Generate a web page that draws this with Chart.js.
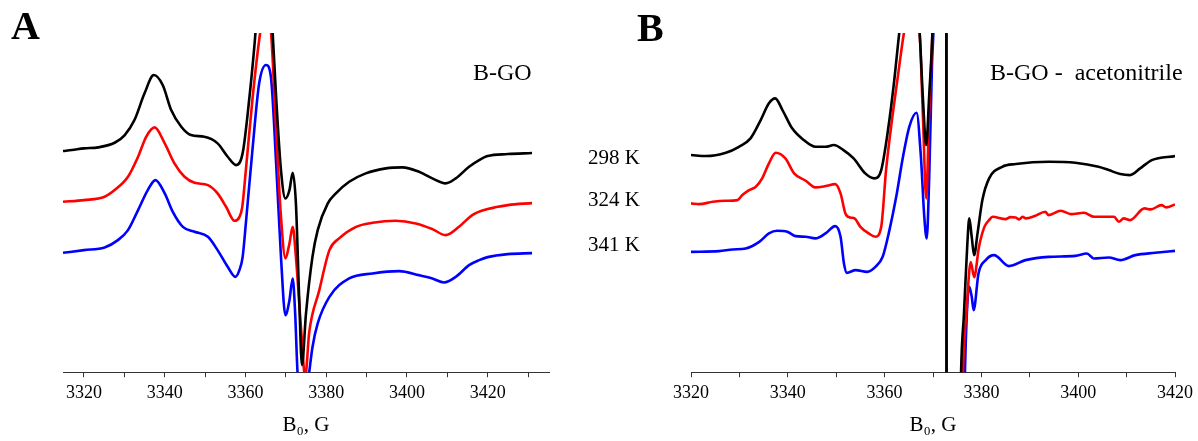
<!DOCTYPE html>
<html><head><meta charset="utf-8">
<script src="https://cdn.jsdelivr.net/npm/chart.js@4.4.0/dist/chart.umd.min.js"></script>
<style>
body{margin:0;background:#fff;width:1198px;height:441px;overflow:hidden;position:relative;font-family:"Liberation Serif","Times New Roman",serif;}
canvas{position:absolute;top:0;}
.lbl{position:absolute;white-space:pre;color:#000;line-height:1;font-family:"Liberation Serif","Times New Roman",serif;}
</style></head><body>
<canvas id="cA" width="600" height="441" style="left:0"></canvas>
<canvas id="cB" width="598" height="441" style="left:600px"></canvas>
<div class="lbl" style="left:11px;top:6px;font-weight:bold;font-size:40px">A</div>
<div class="lbl" style="left:637px;top:8px;font-weight:bold;font-size:40px">B</div>
<div class="lbl" style="left:473px;top:60px;font-size:24px">B-GO</div>
<div class="lbl" style="left:990px;top:60px;font-size:24px">B-GO -  acetonitrile</div>
<div class="lbl" style="left:588px;top:147px;font-size:21px">298 K</div>
<div class="lbl" style="left:588px;top:189px;font-size:21px">324 K</div>
<div class="lbl" style="left:588px;top:234px;font-size:21px">341 K</div>
<script>
// ---- Panel A: B-GO (field in G, signal in arbitrary units) ----
const fieldA298 = [3314.8,3317,3320,3323.5,3327.6,3330.1,3332.5,3335,3337.3,3339.5,3341.6,3344.1,3346.5,3349.8,3353.1,3355.6,3357.7,3359.3,3361,3362.2,3363.5,3364.7,3366,3366.7,3367.6,3368.8,3369.9,3370.9,3371.7,3372.5,3373.3,3374,3375,3376.6,3377.9,3380.4,3382.4,3385.7,3389.8,3394.8,3398.9,3403,3406.3,3409.6,3412.1,3415.4,3417.9,3420,3425,3431];
const signalA298 = [221,222,223.7,224.7,229.3,237,252,278.7,297,287,262,245.3,237,235.3,228.7,215.3,207,218.7,275.3,325.3,390,420,385,342,275,202,173.7,182,199.3,168.7,75.3,7,58.7,115.3,142,168.7,178.7,190.3,198.7,203.7,204.7,200.3,193.7,188.7,193.7,205.3,212,216,218,219];

const fieldA324 = [3314.8,3320,3325.1,3327.6,3330.9,3333.4,3335.4,3337.5,3340,3342.4,3344.9,3347.4,3350.7,3353.1,3355.2,3357.3,3358.5,3359.2,3360.1,3361.8,3363.4,3364.3,3365.3,3366.3,3367.6,3368.8,3369.9,3370.9,3371.7,3372.5,3373.8,3374.8,3375.8,3378.3,3380.8,3383.2,3387.4,3391.5,3397.2,3402.2,3406.3,3409.6,3412.9,3416.2,3420,3425,3431];
const signalA324 = [170.3,172,175.3,182,195.3,215.3,235.3,244.7,228.7,208.7,195.3,189.3,187,178.7,165.3,151.3,155,165,202,275.3,332,355,362,342,242,155.3,113.7,128.7,145.3,115.3,42,-5,40,82,122,133.7,145.3,149.3,151.3,148.7,143,137,145.3,157,163,167,169];

const fieldA341 = [3314.8,3320,3325.1,3328.4,3330.9,3333.4,3335.8,3337.7,3340,3342,3344.5,3347.4,3350.7,3353.1,3355.6,3357.5,3358.5,3359.3,3360.1,3361.8,3363.4,3365.1,3366.3,3367.6,3368.8,3369.9,3370.9,3371.7,3372.3,3372.9,3374.3,3375.8,3376.6,3377.9,3380.8,3385.7,3391.5,3398.1,3403,3406.3,3409.2,3412.1,3415.4,3417.9,3420,3425,3431];
const signalA341 = [119.3,122,124.7,132,142,162,182,192,178.7,160.3,145.3,140.3,135.3,122,105.3,95.3,102,115,148.7,225.3,288.7,307,295.3,208.7,115.3,57,72,93.7,60,0,-50,0,25,48.7,75.3,93.7,98.7,101,97,93.7,89.7,95.3,107,112,115,118,119];

// ---- Panel B: B-GO - acetonitrile ----
const fieldB298 = [3320,3323.1,3327.2,3329.9,3332.3,3334.4,3336.1,3337.4,3338.9,3340.9,3343.3,3345.7,3347.8,3349.5,3351.5,3353.6,3356,3357.9,3359.3,3360.7,3362,3363.1,3364.5,3365.8,3367.2,3367.9,3368.6,3369.2,3369.9,3370.8,3372.7,3372.9,3374.5,3375.8,3376.4,3377.1,3377.5,3378,3378.5,3379.2,3380.2,3381.6,3384.3,3387.1,3393.9,3399.4,3404.2,3406.3,3408.7,3410.7,3412.8,3415.2,3420];
const signalB298 = [217,216,219.3,225.3,233.7,252,268.7,273.7,262,243.7,232,225.3,225.3,227,222,213.7,198.7,193.7,202,242,292,342,390,390,342,275.3,227,275.3,342,500,600,-600,-400,0,58.7,128.7,153.7,135.3,117,138.7,172,193.7,205.3,208,210.3,209.3,205.3,202,198,197,203.7,212,216];

const fieldB324 = [3320,3321.7,3324.5,3327.2,3329.6,3330.6,3332,3333.4,3334.7,3336.1,3337.5,3339.5,3341.3,3343.7,3345.7,3347.8,3349.8,3350.9,3351.9,3352.9,3353.8,3355,3356.7,3358.1,3359.3,3360.3,3361.7,3363.1,3364.1,3365.6,3367.2,3367.9,3368.6,3369.2,3369.9,3370.8,3372.7,3372.9,3374.8,3376.2,3376.9,3377.8,3378.5,3379.5,3380.6,3381.6,3382.3,3385,3386,3387.1,3387.8,3388.5,3389.2,3391,3393.2,3393.9,3396.4,3398.5,3401.2,3403.3,3407.4,3408.4,3409.4,3410.7,3413.7,3415,3417.2,3418.2,3420];
const signalB324 = [168.7,168,170.3,171.3,172,177,182,185.3,193.7,208.7,219.3,213.7,198.7,191.3,184.7,186,188,178.7,158.7,154.7,153.7,145.3,138.7,135.3,145.3,202,258.7,308.7,342,370,342,258.7,173.7,258.7,342,500,600,-600,-400,0,58.7,110,95,125.3,145,152,155.3,153,155,154.7,152.7,155.3,153.7,156,160.3,157,161.3,158,159.3,155.3,155.3,150.3,153.7,152,163.7,162.7,167,164.7,167.7];

const fieldB341 = [3320,3325.8,3328.6,3331.3,3334.1,3336.1,3337.8,3339.9,3341.6,3343.7,3345.7,3347.8,3349.8,3350.9,3351.6,3352.2,3354,3356.4,3358.1,3359.6,3361,3362.4,3363.8,3365.1,3366.6,3367.5,3368.2,3368.7,3369.2,3369.8,3370.1,3371,3372.7,3372.9,3375,3376.6,3377.1,3377.5,3378,3378.4,3379.4,3380.9,3382.6,3385.7,3389.1,3393.9,3399.4,3401.8,3403.2,3406.3,3408.7,3411.8,3415.9,3420];
const signalB341 = [120.3,121,122.7,123.7,130.3,138.7,141.3,140.3,136,135.3,133.7,138.7,146,135.3,108.7,99.3,102,100.3,105.3,115.3,142,175.3,215.3,245.3,259.3,215.3,155.3,133.7,192,308.7,342,500,600,-600,-400,0,68.7,85.3,75.3,62,98.7,112,117,106,112,115.3,116.3,118.7,113.7,114.7,112,117,119.3,121.3];

// ---- Axes ----
const ticksA = [3320,3330,3340,3350,3360,3370,3380,3390,3400,3410,3420,3430];
const ticksB = [3320,3330,3340,3350,3360,3370,3380,3390,3400,3410,3420];
const rangeA = [3314.8, 3435.2];
const rangeB = [3320, 3420];
const axisTitle = 'B\u2080, G';

const FONT = '"Liberation Serif", "Times New Roman", serif';

function pts(xs, ys){ return xs.map((x,i)=>({x:x, y:ys[i]})); }
function ds(xs, ys, color){
  return {data: pts(xs, ys), borderColor: color, backgroundColor: color, borderWidth: 2.6,
          pointRadius: 0, cubicInterpolationMode: 'monotone', fill: false, clip: 0};
}

function makeChart(id, sets, range, tickVals, pad){
  return new Chart(document.getElementById(id), {
    type: 'line',
    data: {datasets: sets},
    options: {
      responsive: false, animation: false, devicePixelRatio: 1,
      layout: {padding: pad},
      plugins: {legend: {display: false}, tooltip: {enabled: false}},
      scales: {
        x: {
          type: 'linear', min: range[0], max: range[1],
          afterBuildTicks: (ax) => { ax.ticks = tickVals.map(v => ({value: v})); },
          ticks: {callback: (v) => (v % 20 === 0 ? String(v) : ''), autoSkip: false, maxRotation: 0,
                  font: {family: FONT, size: 18}, color: '#000', padding: 5},
          grid: {drawOnChartArea: false, drawTicks: true, tickLength: 5, color: '#333', lineWidth: 1},
          border: {display: true, color: '#333', width: 1},
          title: {display: true, text: axisTitle, font: {family: FONT, size: 21}, color: '#000', padding: {top: 4, bottom: 3}}
        },
        y: {display: false, min: 0, max: 339}
      }
    }
  });
}

makeChart('cA', [ds(fieldA298, signalA298, '#000000'), ds(fieldA324, signalA324, '#ff0000'), ds(fieldA341, signalA341, '#0000ff')],
  rangeA, ticksA, {left: 63, right: 51, top: 33, bottom: 0});
makeChart('cB', [ds(fieldB298, signalB298, '#000000'), ds(fieldB324, signalB324, '#ff0000'), ds(fieldB341, signalB341, '#0000ff')],
  rangeB, ticksB, {left: 91, right: 21, top: 33, bottom: 0});
</script>
</body></html>
